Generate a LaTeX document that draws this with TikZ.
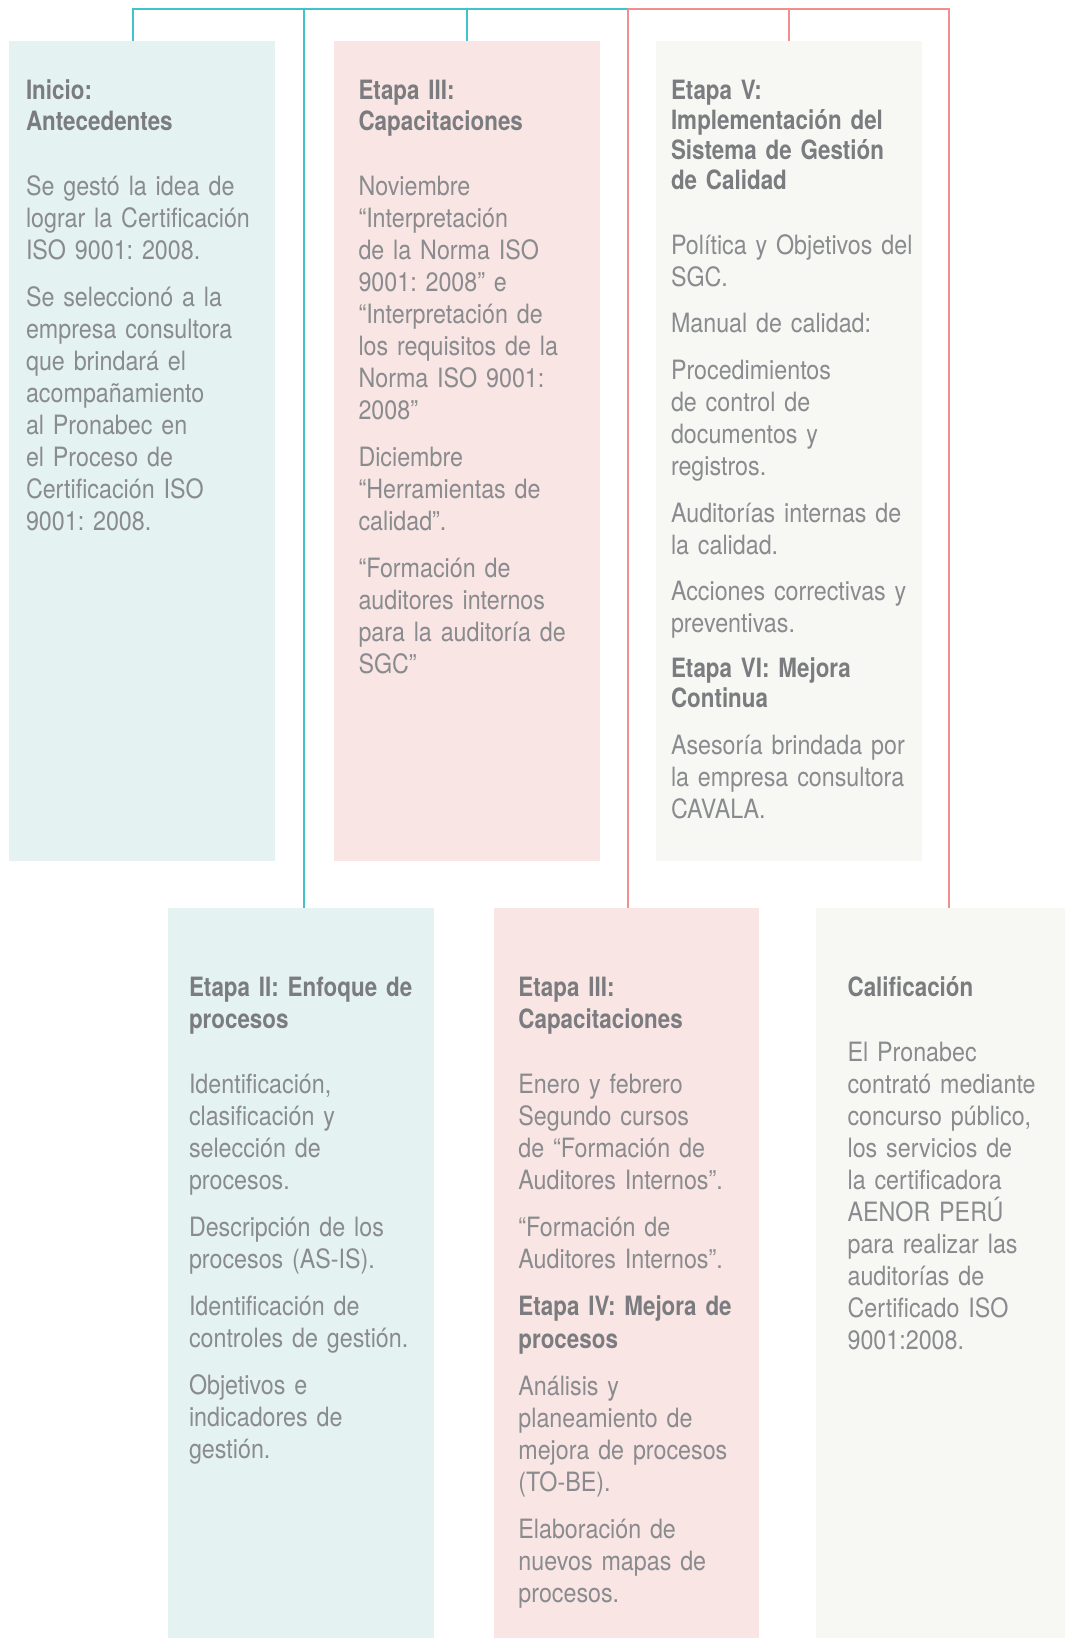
\documentclass[tikz,border=0pt]{standalone}
\usepackage{fontspec}
\setmainfont{TeX Gyre Heros}[FakeStretch=0.875]
\newfontfamily\headfont{TeX Gyre Heros}[FakeStretch=0.842]
\definecolor{bodyc}{HTML}{898B8E}
\definecolor{headc}{HTML}{7A7C7F}
\definecolor{fillT}{HTML}{E4F2F2}
\definecolor{fillP}{HTML}{F9E5E3}
\definecolor{fillG}{HTML}{F7F8F4}
\definecolor{lineT}{HTML}{40C4C9}
\definecolor{lineR}{HTML}{F28E8E}
\def\myhskip{15.7pt}
\def\mypskip{7.5pt}
\newcommand\hd[1]{{\headfont\bfseries\color{headc}\fontsize{13.3pt}{\myhskip}\selectfont #1\par}}
\newcommand\hgap{\vspace{9pt}}
\tikzset{
  boxbase/.style={rectangle, draw=none, inner sep=0pt, outer sep=0pt, anchor=north west},
  boxT/.style={boxbase, fill=fillT},
  boxP/.style={boxbase, fill=fillP},
  boxG/.style={boxbase, fill=fillG},
  hskip/.code={\def\myhskip{#1}},
  pskip/.code={\def\mypskip{#1}},
  txt/.style={anchor=base west, inner sep=0pt, outer sep=0pt, text width=130pt, align=left,
    text=bodyc, font=\fontsize{13.3pt}{16pt}\selectfont,
    execute at begin node={\frenchspacing\setlength{\parskip}{\mypskip}}},
  conT/.style={draw=lineT, line width=0.8pt},
  conR/.style={draw=lineR, line width=0.8pt},
}
\begin{document}
\begin{tikzpicture}[x=0.5pt,y=-0.5pt]
\useasboundingbox (0,0) rectangle (1065,1638);
% boxes
\node[boxT, minimum width=132.75pt, minimum height=410.2pt] (b1) at (9.4,40.8) {};
\node[boxP, minimum width=132.75pt, minimum height=410.2pt] (b2) at (334.4,40.8) {};
\node[boxG, minimum width=132.75pt, minimum height=410.2pt] (b3) at (656.3,40.8) {};
\node[boxT, minimum width=132.7pt, minimum height=364.9pt] (b4) at (168.3,908.2) {};
\node[boxP, minimum width=132.2pt, minimum height=364.9pt] (b5) at (494.3,908.2) {};
\node[boxG, minimum width=124.4pt, minimum height=364.9pt] (b6) at (816.2,908.2) {};
% connector points on the top bar
\coordinate (c1) at (133,9);
\coordinate (c2) at (304,9);
\coordinate (c3) at (467,9);
\coordinate (c4) at (628,9);
\coordinate (c5) at (789,9);
\coordinate (c6) at (949,9);
\draw[conT] (c1 |- b1.north) -- (c1) -- (c4);
\draw[conT] (c2) -- (c2 |- b4.north);
\draw[conT] (c3) -- (c3 |- b2.north);
\draw[conR] (c4) -- (c6) -- (c6 |- b6.north);
\draw[conR] (c4) -- (c4 |- b5.north);
\draw[conR] (c5) -- (c5 |- b3.north);
% texts
\node[txt] (t1) at (26,99) {\hd{Inicio:\\Antecedentes}\hgap
Se gestó la idea de\\lograr la Certificación\\ISO 9001: 2008.\par
Se seleccionó a la\\empresa consultora\\que brindará el\\acompañamiento\\al Pronabec en\\el Proceso de\\Certificación ISO\\9001: 2008.};
\node[txt] (t2) at (358.5,99) {\hd{Etapa III:\\Capacitaciones}\hgap
Noviembre\\“Interpretación\\de la Norma ISO\\9001: 2008” e\\“Interpretación de\\los requisitos de la\\Norma ISO 9001:\\2008”\par
Diciembre\\“Herramientas de\\calidad”.\par
“Formación de\\auditores internos\\para la auditoría de\\SGC”};
\node[txt, hskip=15.1pt, pskip=7.3pt] (t3) at (671,99) {\hd{Etapa V:\\Implementación del\\Sistema de Gestión\\de Calidad}\hgap
Política y Objetivos del\\SGC.\par
Manual de calidad:\par
Procedimientos\\de control de\\documentos y\\registros.\par
Auditorías internas de\\la calidad.\par
Acciones correctivas y\\preventivas.\par
\hd{Etapa VI: Mejora\\Continua}
Asesoría brindada por\\la empresa consultora\\CAVALA.};
\node[txt, hskip=16.2pt] (t4) at (189,996) {\hd{Etapa II: Enfoque de\\procesos}\hgap
Identificación,\\clasificación y\\selección de\\procesos.\par
Descripción de los\\procesos (AS-IS).\par
Identificación de\\controles de gestión.\par
Objetivos e\\indicadores de\\gestión.};
\node[txt, hskip=16.2pt] (t5) at (518.4,996) {\hd{Etapa III:\\Capacitaciones}\hgap
Enero y febrero\\Segundo cursos\\de “Formación de\\Auditores Internos”.\par
“Formación de\\Auditores Internos”.\par
\hd{Etapa IV: Mejora de\\procesos}
Análisis y\\planeamiento de\\mejora de procesos\\(TO-BE).\par
Elaboración de\\nuevos mapas de\\procesos.};
\node[txt] (t6) at (847.6,996) {\hd{Calificación}\hgap
El Pronabec\\contrató mediante\\concurso público,\\los servicios de\\la certificadora\\AENOR PERÚ\\para realizar las\\auditorías de\\Certificado ISO\\9001:2008.};
\end{tikzpicture}
\end{document}
